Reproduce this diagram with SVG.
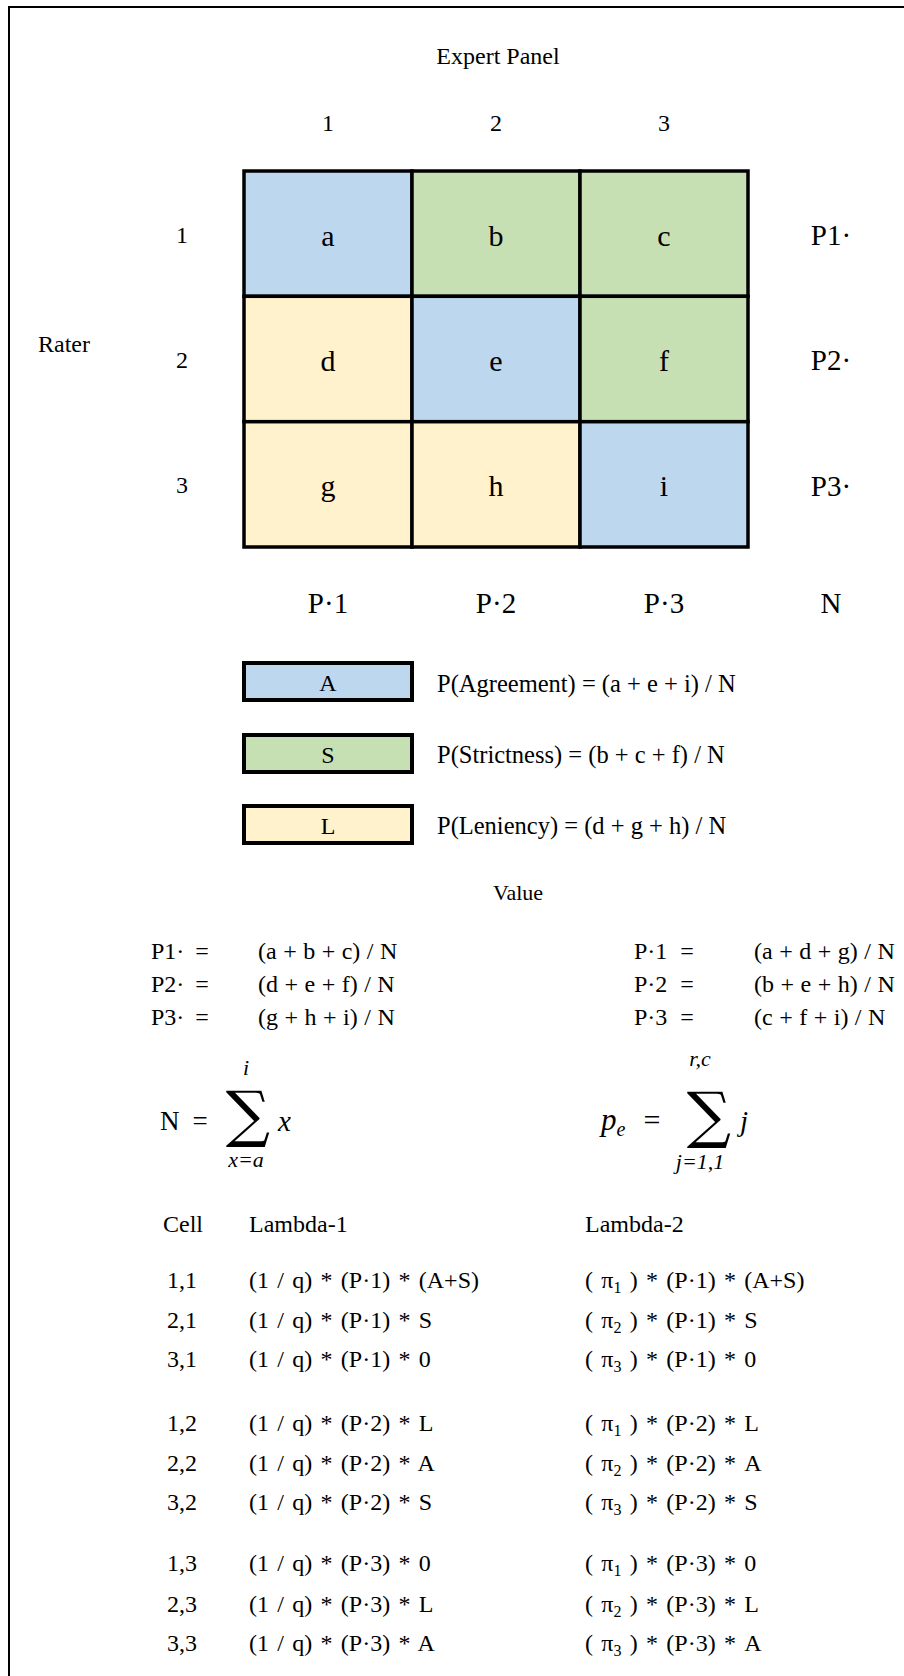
<svg xmlns="http://www.w3.org/2000/svg" width="904" height="1676" viewBox="0 0 904 1676">
<style>
text{font-family:"Liberation Serif","Times New Roman",serif;fill:#000}
.c{text-anchor:middle}
.h{font-size:24px}
.cell{stroke:#000;stroke-width:3.5}
.blue{fill:#BDD7EE}
.green{fill:#C6E0B4}
.yel{fill:#FFF2CC}
.lt{font-size:30px}
.pm{font-size:29px}
.lg{font-size:24.5px}
.box{stroke:#000;stroke-width:4}
.v{font-size:24px;word-spacing:0.5px}
.m{font-style:italic}
.lim{font-style:italic;font-size:22px}
.sig{font-family:"DejaVu Serif",serif;font-size:62px}
.t{font-size:24px;word-spacing:2.3px}
.sub{font-size:16px}
</style>
<rect x="0" y="0" width="904" height="1676" fill="#fff"/>
<rect x="9" y="7" width="910" height="1690" fill="none" stroke="#000" stroke-width="2"/>

<g id="headers">
<text class="h c" x="498" y="64">Expert Panel</text>
<text class="h c" x="328" y="131">1</text>
<text class="h c" x="496" y="131">2</text>
<text class="h c" x="664" y="131">3</text>
<text class="h c" x="182" y="243">1</text>
<text class="h c" x="182" y="368">2</text>
<text class="h c" x="182" y="493">3</text>
<text class="h c" x="64" y="352">Rater</text>
<text class="pm c" x="831" y="245">P1·</text>
<text class="pm c" x="831" y="370">P2·</text>
<text class="pm c" x="831" y="496">P3·</text>
<text class="pm c" x="328" y="613">P·1</text>
<text class="pm c" x="496" y="613">P·2</text>
<text class="pm c" x="664" y="613">P·3</text>
<text class="pm c" x="831" y="613">N</text>
</g>

<g id="cell-a"><rect class="cell blue" x="244" y="171" width="168" height="125.3"/><text class="lt c" x="328" y="246">a</text></g>
<g id="cell-b"><rect class="cell green" x="412" y="171" width="168" height="125.3"/><text class="lt c" x="496" y="246">b</text></g>
<g id="cell-c"><rect class="cell green" x="580" y="171" width="168" height="125.3"/><text class="lt c" x="664" y="246">c</text></g>
<g id="cell-d"><rect class="cell yel" x="244" y="296.3" width="168" height="125.4"/><text class="lt c" x="328" y="371">d</text></g>
<g id="cell-e"><rect class="cell blue" x="412" y="296.3" width="168" height="125.4"/><text class="lt c" x="496" y="371">e</text></g>
<g id="cell-f"><rect class="cell green" x="580" y="296.3" width="168" height="125.4"/><text class="lt c" x="664" y="371">f</text></g>
<g id="cell-g"><rect class="cell yel" x="244" y="421.7" width="168" height="125.3"/><text class="lt c" x="328" y="496">g</text></g>
<g id="cell-h"><rect class="cell yel" x="412" y="421.7" width="168" height="125.3"/><text class="lt c" x="496" y="496">h</text></g>
<g id="cell-i"><rect class="cell blue" x="580" y="421.7" width="168" height="125.3"/><text class="lt c" x="664" y="496">i</text></g>

<g id="legend-A"><rect class="box blue" x="244" y="663" width="168" height="37"/><text class="h c" x="328" y="690.5">A</text><text class="lg" x="437" y="691.5">P(Agreement) = (a + e + i) / N</text></g>
<g id="legend-S"><rect class="box green" x="244" y="735" width="168" height="37"/><text class="h c" x="328" y="762.5">S</text><text class="lg" x="437" y="763">P(Strictness) = (b + c + f) / N</text></g>
<g id="legend-L"><rect class="box yel" x="244" y="806" width="168" height="37"/><text class="h c" x="328" y="833.5">L</text><text class="lg" x="437" y="834">P(Leniency) = (d + g + h) / N</text></g>

<g id="value">
<text class="c" x="518" y="900" style="font-size:22px">Value</text>
<text class="v" x="151" y="959">P1·</text><text class="v c" x="202" y="959">=</text><text class="v" x="258" y="959">(a + b + c) / N</text>
<text class="v" x="151" y="992">P2·</text><text class="v c" x="202" y="992">=</text><text class="v" x="258" y="992">(d + e + f) / N</text>
<text class="v" x="151" y="1025">P3·</text><text class="v c" x="202" y="1025">=</text><text class="v" x="258" y="1025">(g + h + i) / N</text>
<text class="v" x="634" y="959">P·1</text><text class="v c" x="687" y="959">=</text><text class="v" x="754" y="959">(a + d + g) / N</text>
<text class="v" x="634" y="992">P·2</text><text class="v c" x="687" y="992">=</text><text class="v" x="754" y="992">(b + e + h) / N</text>
<text class="v" x="634" y="1025">P·3</text><text class="v c" x="687" y="1025">=</text><text class="v" x="754" y="1025">(c + f + i) / N</text>
</g>

<g id="sum-N">
<text x="160" y="1130" style="font-size:27px">N</text>
<text class="c" x="200" y="1130" style="font-size:27px">=</text>
<text class="sig c" x="248" y="1135">∑</text>
<text class="m" x="278" y="1131" style="font-size:29px">x</text>
<text class="lim c" x="246" y="1075">i</text>
<text class="lim c" x="246" y="1167">x=a</text>
</g>

<g id="sum-pe">
<text class="m" x="601" y="1130" style="font-size:31px">p<tspan class="m" style="font-size:20px" dy="6">e</tspan></text>
<text class="c" x="652" y="1130" style="font-size:30px">=</text>
<text class="sig c" x="709" y="1136">∑</text>
<text class="m" x="740" y="1131" style="font-size:29px">j</text>
<text class="lim c" x="700" y="1066">r,c</text>
<text class="lim c" x="700" y="1169">j=1,1</text>
</g>

<g id="lambda">
<text class="t c" x="183" y="1232">Cell</text>
<text class="t" x="249" y="1232">Lambda-1</text>
<text class="t" x="585" y="1232">Lambda-2</text>

<text class="t c" x="182" y="1288">1,1</text>
<text class="t" x="249" y="1288">(1 / q) * (P·1) * (A+S)</text>
<text class="t" x="585" y="1288">( π<tspan class="sub" dy="5">1</tspan><tspan dy="-5"> ) * (P·1) * (A+S)</tspan></text>
<text class="t c" x="182" y="1328">2,1</text>
<text class="t" x="249" y="1328">(1 / q) * (P·1) * S</text>
<text class="t" x="585" y="1328">( π<tspan class="sub" dy="5">2</tspan><tspan dy="-5"> ) * (P·1) * S</tspan></text>
<text class="t c" x="182" y="1367">3,1</text>
<text class="t" x="249" y="1367">(1 / q) * (P·1) * 0</text>
<text class="t" x="585" y="1367">( π<tspan class="sub" dy="5">3</tspan><tspan dy="-5"> ) * (P·1) * 0</tspan></text>

<text class="t c" x="182" y="1431">1,2</text>
<text class="t" x="249" y="1431">(1 / q) * (P·2) * L</text>
<text class="t" x="585" y="1431">( π<tspan class="sub" dy="5">1</tspan><tspan dy="-5"> ) * (P·2) * L</tspan></text>
<text class="t c" x="182" y="1471">2,2</text>
<text class="t" x="249" y="1471">(1 / q) * (P·2) * A</text>
<text class="t" x="585" y="1471">( π<tspan class="sub" dy="5">2</tspan><tspan dy="-5"> ) * (P·2) * A</tspan></text>
<text class="t c" x="182" y="1510">3,2</text>
<text class="t" x="249" y="1510">(1 / q) * (P·2) * S</text>
<text class="t" x="585" y="1510">( π<tspan class="sub" dy="5">3</tspan><tspan dy="-5"> ) * (P·2) * S</tspan></text>

<text class="t c" x="182" y="1571">1,3</text>
<text class="t" x="249" y="1571">(1 / q) * (P·3) * 0</text>
<text class="t" x="585" y="1571">( π<tspan class="sub" dy="5">1</tspan><tspan dy="-5"> ) * (P·3) * 0</tspan></text>
<text class="t c" x="182" y="1612">2,3</text>
<text class="t" x="249" y="1612">(1 / q) * (P·3) * L</text>
<text class="t" x="585" y="1612">( π<tspan class="sub" dy="5">2</tspan><tspan dy="-5"> ) * (P·3) * L</tspan></text>
<text class="t c" x="182" y="1651">3,3</text>
<text class="t" x="249" y="1651">(1 / q) * (P·3) * A</text>
<text class="t" x="585" y="1651">( π<tspan class="sub" dy="5">3</tspan><tspan dy="-5"> ) * (P·3) * A</tspan></text>
</g>

<g id="connectors"></g>
</svg>
